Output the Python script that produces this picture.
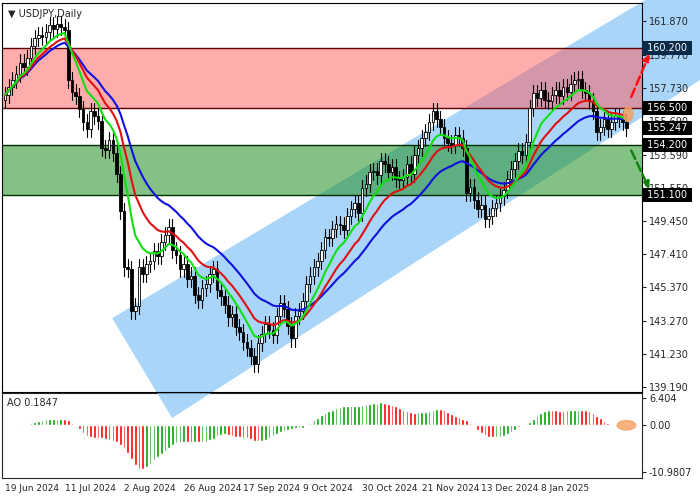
import numpy as np, pandas as pd, seaborn as sns, matplotlib
matplotlib.use("Agg")
import matplotlib.pyplot as plt
from matplotlib.patches import Polygon, Ellipse, Rectangle

closes = [157.3,157.8,158.2,158.6,159.3,159.0,159.6,160.3,160.8,161.0,
160.9,161.2,161.6,161.4,161.7,161.5,161.3,158.2,157.5,157.2,
156.4,155.6,155.2,156.3,156.0,155.7,154.0,153.9,154.5,153.7,
152.4,150.1,146.6,146.5,143.9,144.2,146.6,146.2,146.8,147.0,
147.6,147.3,148.2,148.6,149.1,147.7,147.4,146.5,146.8,145.9,
146.1,144.9,144.6,145.3,145.6,146.2,146.5,145.2,144.8,144.3,
143.5,143.7,142.9,142.6,142.0,141.6,141.1,140.6,141.9,142.5,
143.1,142.7,142.4,143.6,144.4,144.0,143.0,142.2,143.6,143.9,
144.5,145.6,146.1,146.6,147.0,147.7,148.5,148.4,149.0,149.3,
149.2,148.9,149.8,150.2,150.6,150.0,151.5,151.8,152.5,152.6,
152.3,153.2,153.0,152.5,152.8,152.1,152.0,152.2,153.0,152.4,
153.6,154.0,154.6,155.0,155.6,156.3,155.8,155.3,154.6,154.3,
154.2,154.8,154.6,154.0,151.2,151.6,150.8,150.2,150.5,149.6,
149.8,150.3,150.6,151.0,151.4,152.1,152.7,153.2,153.8,153.6,
154.4,156.5,157.4,157.1,157.6,157.0,156.9,157.3,157.6,157.2,
157.8,157.5,158.0,158.2,158.3,157.6,157.4,156.9,156.3,155.0,
155.3,155.8,155.2,155.6,156.0,155.8,155.6,155.247]
tick_pos = [0,16,32,48,64,80,96,112,128,144]
tick_labels = ["19 Jun 2024","11 Jul 2024","2 Aug 2024","26 Aug 2024","17 Sep 2024",
               "9 Oct 2024","30 Oct 2024","21 Nov 2024","13 Dec 2024","8 Jan 2025"]
price_ticks = [139.190,141.230,143.270,145.370,147.410,149.450,151.550,153.590,155.690,157.730,159.770,161.870]
levels = [160.200,156.500,154.200,151.100]
current = 155.247

sns.set_style("white")
plt.rcParams['font.family'] = ['DejaVu Sans']
c = np.array(closes); n = len(c); idx = np.arange(n)
o = np.r_[c[0]-0.3, c[:-1]]
hi = np.maximum(o, c) + 0.5; lo = np.minimum(o, c) - 0.5
df = pd.DataFrame({"i": idx, "c": c})
ma_g = df.c.ewm(span=9).mean(); ma_r = df.c.ewm(span=16).mean(); ma_b = df.c.ewm(span=28).mean()
med = pd.Series((hi+lo)/2)
ao = (med.rolling(5, min_periods=1).mean() - med.rolling(34, min_periods=1).mean()).values

fig = plt.figure(figsize=(7,5), dpi=100)
ax2 = fig.add_axes([2/700, 22/500, 640/700, 85/500])
ax = fig.add_axes([2/700, 1-392/500, 640/700, 389/500])
ax.set_zorder(3); ax.patch.set_alpha(0)
ax.set_xlim(-0.8, 171.2); ax.set_ylim(138.88, 162.99)

pu = lambda x: 143.46 + (x-28.8)*0.1376
pl = lambda x: 137.27 + (x-44.9)*0.1476
chan = Polygon([(28.8,pu(28.8)),(44.9,pl(44.9)),(189,pl(189)),(189,pu(189))],
               closed=True, fc='#8cc8f7', ec='none', alpha=0.75, zorder=0, clip_on=False)
ax.add_patch(chan)
clipbox = Rectangle((0,0),1,1, transform=fig.transFigure)
clip = Rectangle((2/700, 22/500), 1, 1, transform=fig.transFigure, visible=False)
fig.add_artist(clip); chan.set_clip_path(clip)
ax.axhspan(156.5,160.2, color='#ff5a5a', alpha=0.5, lw=0, zorder=1)
ax.axhspan(151.1,154.2, color='#1f8f1f', alpha=0.55, lw=0, zorder=1)
for lv,col in zip(levels,['#600000','#600000','#003000','#003000']):
    ax.axhline(lv, color=col, lw=1, zorder=2)

for i in range(n):
    up = c[i] >= o[i]
    ax.plot([i,i],[lo[i],hi[i]], color='black', lw=0.8, zorder=3)
    ax.add_patch(Rectangle((i-0.35, min(o[i],c[i])), 0.7, max(abs(c[i]-o[i]),0.03),
                 fc='white' if up else 'black', ec='black', lw=0.6, zorder=4))
sns.lineplot(x=idx, y=ma_b, ax=ax, color='#1010e0', lw=1.5, zorder=5)
sns.lineplot(x=idx, y=ma_r, ax=ax, color='#e01010', lw=1.5, zorder=5)
sns.lineplot(x=idx, y=ma_g, ax=ax, color='#10e010', lw=1.5, zorder=5)
ax.add_patch(Ellipse((167.5,156.1), 2.5, 0.9, color='#f4a060', alpha=0.8, zorder=6))
ax.annotate('', xy=(173.5,160.0), xytext=(168,157.0), annotation_clip=False,
            arrowprops=dict(arrowstyle='-|>', color='#ff1010', ls='--', lw=1.8))
ax.annotate('', xy=(173.5,151.3), xytext=(168,154.0), annotation_clip=False,
            arrowprops=dict(arrowstyle='-|>', color='#108010', ls='--', lw=1.8))

ax.yaxis.tick_right(); ax.set_yticks(price_ticks)
ax.set_yticklabels([f"{t:.3f}" for t in price_ticks], fontsize=7)
ax.tick_params(axis='y', length=3, pad=2, right=True)
ax.set_xticks([]); ax.set_ylabel(''); ax.set_xlabel('')
for s in ax.spines.values(): s.set_color('black')
ax.text(0.01, 0.985, "\u25BC USDJPY,Daily", transform=ax.transAxes, fontsize=7, va='top')
for lv,bg in zip(levels+[current], ['#0a2a4a','black','black','black','black']):
    ax.text(1.003, lv, f" {lv:.3f} ", transform=ax.get_yaxis_transform(), fontsize=7, color='white',
            va='center', ha='left', bbox=dict(boxstyle='square,pad=0.2', fc=bg, ec='none'), zorder=10)

cols = ['#00a000' if i>0 and ao[i]>ao[i-1] else '#ff0000' for i in range(n)]
cols[0] = '#00a000'
ax2.bar(idx, ao, width=0.7, color=cols)
ax2.set_xlim(-0.8, 171.2); ax2.set_ylim(-12.39, 7.58)
ax2.add_patch(Ellipse((167,0), 5, 2.2, color='#f4a060', alpha=0.8))
ax2.yaxis.tick_right(); ax2.set_yticks([6.404,0.0,-10.9807])
ax2.set_yticklabels(["6.404","0.00","-10.9807"], fontsize=7)
ax2.set_xticks(tick_pos); ax2.set_xticklabels(tick_labels, fontsize=6.5, ha='left')
ax2.tick_params(axis='x', length=3, pad=1); ax2.tick_params(axis='y', length=3, pad=2)
ax2.text(0.008, 0.94, "AO 0.1847", transform=ax2.transAxes, fontsize=7, va='top')
fig.savefig("out.png", dpi=100)
